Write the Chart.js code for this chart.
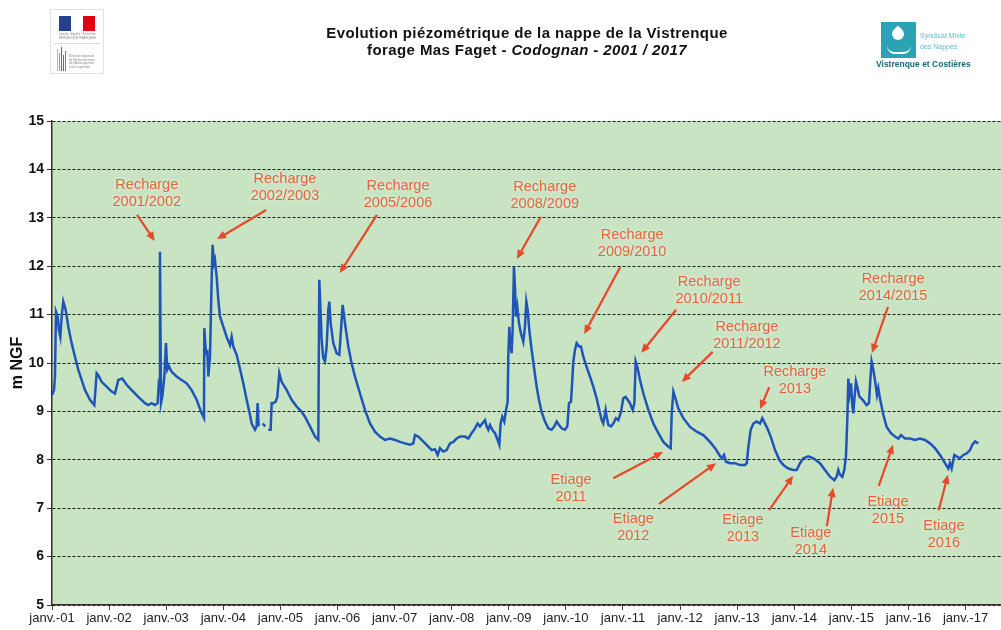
<!DOCTYPE html>
<html>
<head>
<meta charset="utf-8">
<script src="https://cdn.jsdelivr.net/npm/chart.js@4/dist/chart.umd.min.js"></script>
<style>
  html, body { margin: 0; padding: 0; background: #fff; }
  #wrap { position: relative; width: 1001px; height: 630px; overflow: hidden; font-family: "Liberation Sans", Arial, sans-serif; }
  #c { position: absolute; left: 0; top: 0; }
  .title { position: absolute; left: 177px; top: 24px; width: 700px; text-align: center; font-weight: bold; font-size: 15px; letter-spacing: 0.4px; line-height: 17px; color: #111; }
  .logo-l { position: absolute; left: 50px; top: 9px; width: 52px; height: 63px; border: 1px solid #e2e2e2; }
  .flag { position: absolute; left: 8px; top: 6px; width: 36px; height: 15px; display: flex; }
  .flag span { flex: 1; }
  .tiny { position: absolute; font-size: 3px; line-height: 3.5px; color: #888; white-space: nowrap; }
  .sep { position: absolute; left: 3px; right: 3px; top: 33px; border-top: 1px solid #ddd; }
  .bars { position: absolute; left: 4px; top: 37px; width: 12px; height: 24px; }
  .bars span { position: absolute; bottom: 0; width: 1px; }
  .logo-r { position: absolute; left: 876px; top: 20px; width: 110px; height: 56px; }
  .sq { position: absolute; left: 5px; top: 2px; width: 35px; height: 36px; background: #2aa3b4; }
  .drop { position: absolute; left: 11px; top: 6px; width: 12px; height: 12px; background: #fff; border-radius: 0 50% 50% 50%; transform: rotate(45deg); }
  .hand { position: absolute; left: 6px; top: 24px; width: 24px; height: 6px; border-bottom: 2px solid #fff; border-radius: 0 0 12px 12px; }
  .syn { position: absolute; left: 44px; font-size: 7px; color: #63bccb; white-space: nowrap; }
  .vc { position: absolute; left: 0; top: 39px; font-size: 8.5px; font-weight: bold; color: #1d6a79; white-space: nowrap; }
</style>
</head>
<body>
<div id="wrap">
  <canvas id="c" width="1001" height="630"></canvas>
  <div class="title">Evolution piézométrique de la nappe de la Vistrenque<br>forage Mas Faget - <i>Codognan</i> - <i>2001 / 2017</i></div>
  <div class="logo-l">
    <div class="flag"><span style="background:#24408e"></span><span style="background:#fff"></span><span style="background:#e1000f"></span></div>
    <div class="tiny" style="left:8px;top:23px;">Liberté • Égalité • Fraternité</div>
    <div class="tiny" style="left:8px;top:27px;">RÉPUBLIQUE FRANÇAISE</div>
    <div class="sep"></div>
    <div class="bars">
      <span style="left:2px;height:22px;background:#f2c200"></span>
      <span style="left:4px;height:18px;background:#7cbf3a"></span>
      <span style="left:6px;height:24px;background:#8a4fa3"></span>
      <span style="left:8px;height:16px;background:#e2392c"></span>
      <span style="left:10px;height:20px;background:#3d8ed0"></span>
    </div>
    <div class="tiny" style="left:18px;top:45px;">Direction régionale<br>de l'Environnement<br>de l'Aménagement<br>et du Logement</div>
  </div>
  <div class="logo-r">
    <div class="sq"><div class="drop"></div><div class="hand"></div></div>
    <div class="syn" style="top:12px;">Syndicat Mixte</div>
    <div class="syn" style="top:23px;">des Nappes</div>
    <div class="vc">Vistrenque et Costières</div>
  </div>
</div>
<script>
// relevés piézométriques (année décimale, m NGF)
const years = [
  2001.000, 2001.035, 2001.052, 2001.070, 2001.099, 2001.122, 2001.146, 2001.169, 2001.198, 2001.239,
  2001.286, 2001.344, 2001.402, 2001.461, 2001.519, 2001.578, 2001.665, 2001.741, 2001.782, 2001.811,
  2001.869, 2001.957, 2002.045, 2002.103, 2002.161, 2002.231, 2002.307, 2002.395, 2002.512, 2002.628,
  2002.687, 2002.745, 2002.803, 2002.850, 2002.874, 2002.891, 2002.909, 2002.932, 2002.967, 2002.996,
  2003.019, 2003.049, 2003.095, 2003.183, 2003.270, 2003.358, 2003.446, 2003.533, 2003.621, 2003.662,
  2003.667, 2003.697, 2003.720, 2003.738, 2003.767, 2003.796, 2003.813, 2003.837, 2003.854, 2003.884,
  2003.913, 2003.942, 2004.000, 2004.058, 2004.117, 2004.146, 2004.175, 2004.234,
  2004.292, 2004.350, 2004.409, 2004.467, 2004.496, 2004.555, 2004.584, 2004.601, 2004.619, 2004.650,
  2004.689, 2004.736, 2004.760, 2004.788, 2004.829, 2004.847, 2004.876, 2004.917, 2004.946, 2004.981,
  2005.022, 2005.110, 2005.197, 2005.284, 2005.372, 2005.430, 2005.518, 2005.606, 2005.664, 2005.681,
  2005.705, 2005.722, 2005.751, 2005.781, 2005.810, 2005.839, 2005.857, 2005.880, 2005.927, 2005.985,
  2006.032, 2006.061, 2006.090, 2006.131, 2006.189, 2006.248, 2006.306, 2006.394, 2006.481, 2006.569,
  2006.656, 2006.744, 2006.831, 2006.919, 2007.007, 2007.094, 2007.182, 2007.270, 2007.328, 2007.357,
  2007.415, 2007.474, 2007.561, 2007.649,
  2007.707, 2007.754, 2007.795, 2007.853, 2007.911, 2007.970, 2008.028, 2008.086, 2008.145, 2008.232,
  2008.291, 2008.349, 2008.408, 2008.454, 2008.495, 2008.536, 2008.583, 2008.612, 2008.641, 2008.670,
  2008.711, 2008.758, 2008.805, 2008.834, 2008.857, 2008.886, 2008.921, 2008.951, 2008.980, 2008.991,
  2009.009, 2009.026, 2009.050, 2009.067, 2009.090, 2009.108, 2009.126, 2009.149, 2009.178, 2009.213,
  2009.254, 2009.283, 2009.307, 2009.330, 2009.359, 2009.400, 2009.447, 2009.488, 2009.528, 2009.575,
  2009.634, 2009.692, 2009.750, 2009.797, 2009.838, 2009.879, 2009.925, 2009.984, 2010.025, 2010.054,
  2010.089, 2010.112, 2010.130, 2010.159, 2010.188, 2010.229, 2010.264, 2010.305, 2010.363, 2010.422,
  2010.480, 2010.538, 2010.585, 2010.626, 2010.655, 2010.696, 2010.714, 2010.743, 2010.789, 2010.830,
  2010.877, 2010.918, 2010.965, 2011.005, 2011.046, 2011.081, 2011.122, 2011.170, 2011.199,
  2011.222, 2011.251, 2011.298, 2011.357, 2011.444, 2011.532, 2011.619, 2011.707, 2011.794, 2011.835,
  2011.853, 2011.882, 2011.911, 2011.970, 2012.057, 2012.174, 2012.291, 2012.407, 2012.524, 2012.612,
  2012.687, 2012.728, 2012.769, 2012.804, 2012.874, 2012.962, 2013.049, 2013.137, 2013.167, 2013.196,
  2013.236, 2013.283, 2013.341, 2013.400, 2013.440, 2013.470, 2013.528, 2013.587, 2013.663, 2013.738,
  2013.808, 2013.896, 2013.983, 2014.042, 2014.100, 2014.159, 2014.246, 2014.334,
  2014.450, 2014.537, 2014.625, 2014.701, 2014.741, 2014.771, 2014.800, 2014.841, 2014.876, 2014.905,
  2014.928, 2014.946, 2014.969, 2014.993, 2015.016, 2015.033, 2015.051, 2015.080, 2015.109, 2015.138,
  2015.197, 2015.267, 2015.308, 2015.331, 2015.354, 2015.384, 2015.413, 2015.448, 2015.471, 2015.500,
  2015.559, 2015.617, 2015.693, 2015.763, 2015.821, 2015.868, 2015.938, 2016.026, 2016.113, 2016.201,
  2016.288, 2016.376, 2016.464, 2016.551, 2016.639, 2016.697, 2016.726, 2016.756, 2016.802, 2016.843,
  2016.902, 2016.960, 2017.018, 2017.077, 2017.118, 2017.165, 2017.223
];
const levels = [
  9.34, 9.44, 9.72, 11.06, 10.96, 10.68, 10.54, 10.96, 11.27, 11.10,
  10.75, 10.41, 10.13, 9.86, 9.65, 9.44, 9.24, 9.13, 9.79, 9.75,
  9.61, 9.51, 9.41, 9.37, 9.65, 9.68, 9.55, 9.44, 9.30, 9.17,
  9.13, 9.17, 9.13, 9.17, 9.65, 12.30, 9.17, 9.30, 9.72, 10.41,
  9.86, 9.93, 9.82, 9.72, 9.65, 9.58, 9.44, 9.24, 8.96, 8.86,
  10.72, 10.20, 10.23, 9.72, 10.13, 11.72, 12.44, 12.06, 12.13, 11.78,
  11.30, 10.96, 10.75, 10.54, 10.37, 10.54, 10.34, 10.17,
  9.88, 9.58, 9.24, 8.93, 8.75, 8.62, 8.69, 9.17, 8.69, null,
  8.75, 8.69, null, 8.62, 8.62, 9.17, 9.17, 9.20, 9.30, 9.79,
  9.61, 9.44, 9.24, 9.10, 8.99, 8.89, 8.69, 8.48, 8.41, 11.72,
  11.03, 10.48, 10.10, 10.03, 10.34, 11.10, 11.27, 10.82, 10.41, 10.20,
  10.17, 10.68, 11.20, 10.82, 10.34, 9.99, 9.72, 9.37, 9.03, 8.75,
  8.58, 8.48, 8.41, 8.44, 8.41, 8.37, 8.34, 8.31, 8.34, 8.51,
  8.48, 8.41, 8.31, 8.20,
  8.22, 8.10, 8.24, 8.17, 8.20, 8.34, 8.37, 8.44, 8.48, 8.48,
  8.44, 8.55, 8.65, 8.75, 8.69, 8.75, 8.82, 8.69, 8.62, 8.72,
  8.62, 8.55, 8.41, 8.31, 8.75, 8.89, 8.79, 9.03, 9.20, 10.13,
  10.75, 10.41, 10.20, 10.68, 11.99, 11.58, 10.96, 11.16, 10.82, 10.61,
  10.44, 10.75, 11.27, 11.10, 10.68, 10.27, 9.86, 9.51, 9.24, 8.99,
  8.79, 8.65, 8.62, 8.69, 8.79, 8.72, 8.65, 8.62, 8.69, 9.17,
  9.20, 9.65, 10.03, 10.27, 10.41, 10.34, 10.34, 10.13, 9.92, 9.72,
  9.51, 9.27, 9.03, 8.82, 8.75, 9.03, 8.89, 8.72, 8.69, 8.75,
  8.86, 8.82, 8.99, 9.27, 9.30, 9.24, 9.17, 9.03, 9.17,
  10.03, 9.92, 9.65, 9.37, 9.03, 8.75, 8.55, 8.37, 8.27, 8.24,
  8.96, 9.41, 9.30, 9.06, 8.86, 8.68, 8.58, 8.51, 8.37, 8.24,
  8.10, 8.03, 8.10, 7.96, 7.93, 7.93, 7.89, 7.89, 7.93, 8.27,
  8.62, 8.75, 8.79, 8.75, 8.86, 8.79, 8.65, 8.48, 8.20, 8.00,
  7.89, 7.82, 7.79, 7.79, 7.93, 8.03, 8.07, 8.03,
  7.93, 7.79, 7.65, 7.58, 7.65, 7.79, 7.69, 7.65, 7.79, 8.07,
  8.82, 9.68, 9.37, 9.58, 9.13, 8.96, 9.24, 9.62, 9.48, 9.31,
  9.24, 9.13, 9.17, 9.65, 10.03, 9.86, 9.65, 9.34, 9.48, 9.27,
  8.93, 8.68, 8.55, 8.48, 8.44, 8.51, 8.44, 8.44, 8.41, 8.44,
  8.41, 8.34, 8.24, 8.10, 7.93, 7.82, 7.93, 7.82, 8.10, 8.07,
  8.03, 8.10, 8.13, 8.20, 8.31, 8.38, 8.34
];

const tickYears = [2001, 2002, 2003, 2004, 2005, 2006, 2007, 2008, 2009, 2010, 2011, 2012, 2013, 2014, 2015, 2016, 2017];
const tickLabels = ["janv.-01", "janv.-02", "janv.-03", "janv.-04", "janv.-05", "janv.-06", "janv.-07", "janv.-08", "janv.-09",
  "janv.-10", "janv.-11", "janv.-12", "janv.-13", "janv.-14", "janv.-15", "janv.-16", "janv.-17"];

// annotations : texte, position du texte et flèche (en coordonnées du graphique)
const noteText = [
  ["Recharge", "2001/2002"], ["Recharge", "2002/2003"], ["Recharge", "2005/2006"], ["Recharge", "2008/2009"],
  ["Recharge", "2009/2010"], ["Recharge", "2010/2011"], ["Recharge", "2011/2012"], ["Recharge", "2013"],
  ["Recharge", "2014/2015"], ["Etiage", "2011"], ["Etiage", "2012"], ["Etiage", "2013"],
  ["Etiage", "2014"], ["Etiage", "2015"], ["Etiage", "2016"]
];
const noteX = [2002.66, 2005.08, 2007.06, 2009.63, 2011.16, 2012.51, 2013.17, 2014.01, 2015.73, 2010.09, 2011.18, 2013.10, 2014.29, 2015.64, 2016.62];
const noteY = [13.51, 13.62, 13.49, 13.47, 12.46, 11.49, 10.56, 9.63, 11.57, 7.40, 6.61, 6.59, 6.32, 6.96, 6.45];
const arrowFromX = [2002.49, 2004.75, 2006.69, 2009.56, 2010.95, 2011.93, 2012.57, 2013.56, 2015.64, 2010.83, 2011.63, 2013.56, 2014.57, 2015.48, 2016.53];
const arrowFromY = [13.06, 13.16, 13.06, 13.02, 11.98, 11.10, 10.23, 9.50, 11.16, 7.62, 7.09, 6.96, 6.63, 7.46, 6.96];
const arrowToX = [2002.80, 2003.89, 2006.04, 2009.14, 2010.32, 2011.32, 2012.03, 2013.40, 2015.36, 2011.70, 2012.63, 2013.98, 2014.68, 2015.73, 2016.69];
const arrowToY = [12.52, 12.56, 11.86, 12.15, 10.60, 10.21, 9.61, 9.05, 10.21, 8.16, 7.93, 7.67, 7.42, 8.31, 7.69];

const FONT = '"Liberation Sans", Arial, sans-serif';

const plotBg = {
  id: 'plotBg',
  beforeDraw(chart) {
    const { ctx, chartArea: a } = chart;
    ctx.save();
    ctx.fillStyle = '#c8e4c2';
    ctx.fillRect(a.left, a.top, a.right - a.left, a.bottom - a.top);
    ctx.restore();
  }
};

const notes = {
  id: 'notes',
  afterDatasetsDraw(chart) {
    const { ctx, scales: { x, y } } = chart;
    ctx.save();
    for (let i = 0; i < noteText.length; i++) {
      const x1 = x.getPixelForValue(arrowFromX[i]), y1 = y.getPixelForValue(arrowFromY[i]);
      const x2 = x.getPixelForValue(arrowToX[i]), y2 = y.getPixelForValue(arrowToY[i]);
      const ang = Math.atan2(y2 - y1, x2 - x1);
      const hl = 9, hw = 4;
      ctx.strokeStyle = '#e8482c';
      ctx.fillStyle = '#e8482c';
      ctx.lineWidth = 2.2;
      ctx.beginPath();
      ctx.moveTo(x1, y1);
      ctx.lineTo(x2 - Math.cos(ang) * hl * 0.8, y2 - Math.sin(ang) * hl * 0.8);
      ctx.stroke();
      ctx.beginPath();
      ctx.moveTo(x2, y2);
      ctx.lineTo(x2 - Math.cos(ang) * hl - Math.sin(ang) * hw, y2 - Math.sin(ang) * hl + Math.cos(ang) * hw);
      ctx.lineTo(x2 - Math.cos(ang) * hl + Math.sin(ang) * hw, y2 - Math.sin(ang) * hl - Math.cos(ang) * hw);
      ctx.closePath();
      ctx.fill();

      const tx = x.getPixelForValue(noteX[i]), ty = y.getPixelForValue(noteY[i]);
      ctx.font = '14.5px ' + FONT;
      ctx.textAlign = 'center';
      ctx.textBaseline = 'middle';
      ctx.shadowColor = 'rgba(255,255,255,0.7)';
      ctx.shadowBlur = 4;
      ctx.fillStyle = '#e6643e';
      ctx.fillText(noteText[i][0], tx, ty - 8.5);
      ctx.fillText(noteText[i][1], tx, ty + 8.5);
      ctx.shadowBlur = 0;
    }
    ctx.restore();
  }
};

new Chart(document.getElementById('c'), {
  type: 'line',
  data: {
    datasets: [{
      data: years.map((yr, i) => ({ x: yr, y: levels[i] })),
      borderColor: '#1f55b8',
      borderWidth: 2.5,
      pointRadius: 0,
      tension: 0,
      fill: false,
      spanGaps: false
    }]
  },
  options: {
    responsive: false,
    animation: false,
    layout: { padding: { top: 121, right: 0, left: 0, bottom: 0 } },
    plugins: { legend: { display: false }, tooltip: { enabled: false } },
    scales: {
      x: {
        type: 'linear',
        min: 2001,
        max: 2017.62,
        afterBuildTicks: (s) => { s.ticks = tickYears.map((v) => ({ value: v })); },
        afterFit: (s) => { s.height = 25; },
        ticks: {
          autoSkip: false,
          maxRotation: 0,
          padding: 1,
          color: '#222',
          font: { family: FONT, size: 13 },
          callback: (v, i) => tickLabels[i]
        },
        grid: { drawOnChartArea: false, tickLength: 5, color: '#444' },
        border: { color: '#3a2a25', width: 1.5 }
      },
      y: {
        min: 5,
        max: 15,
        afterFit: (s) => { s.width = 52; },
        ticks: {
          stepSize: 1,
          padding: 3,
          color: '#111',
          font: { family: FONT, size: 14, weight: 'bold' }
        },
        grid: { color: '#1a1a1a', lineWidth: 1, tickLength: 5, tickColor: '#333', tickBorderDash: [] },
        border: { color: '#3a2a25', width: 1.5, dash: [3, 2] },
        title: {
          display: true,
          text: 'm NGF',
          color: '#111',
          padding: { top: 8, bottom: 0 },
          font: { family: FONT, size: 16, weight: 'bold' }
        }
      }
    }
  },
  plugins: [plotBg, notes]
});
</script>
</body>
</html>
